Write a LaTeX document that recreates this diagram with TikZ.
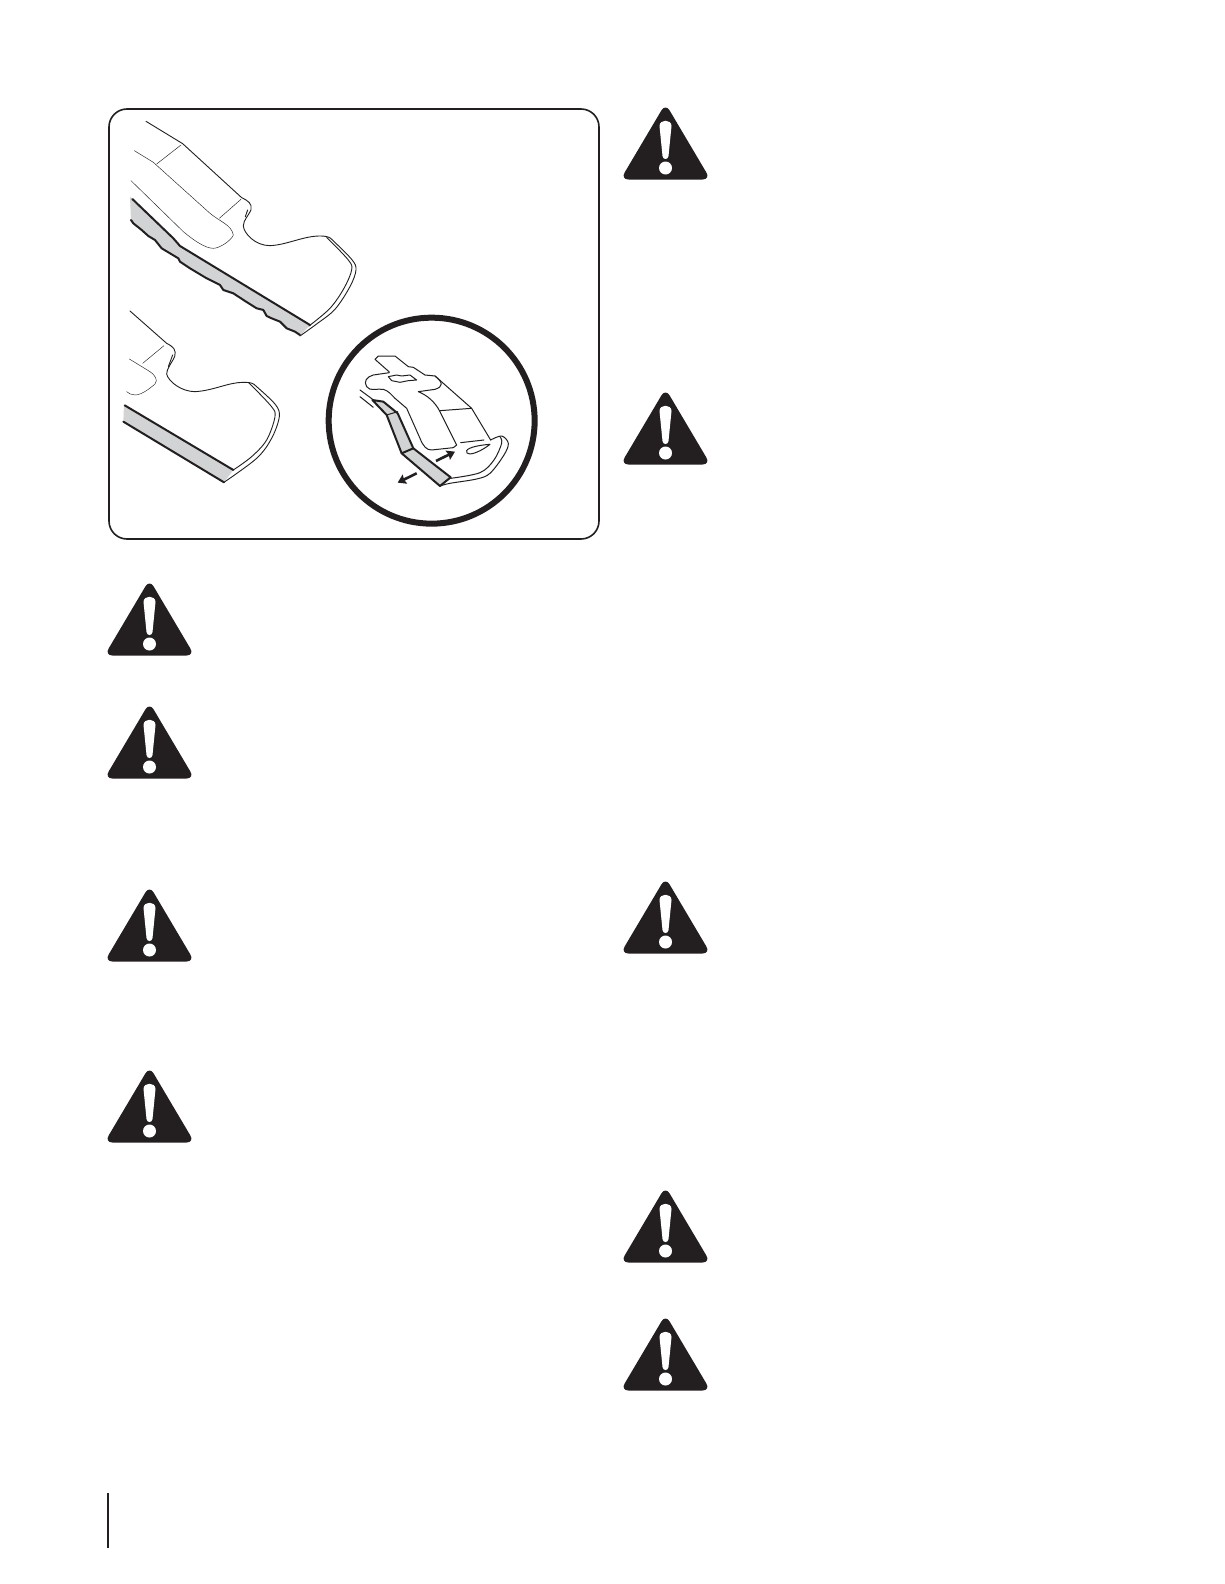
\documentclass[tikz,border=0pt]{standalone}
\usetikzlibrary{arrows.meta}
\definecolor{ink}{HTML}{231F20}
\definecolor{bladegrey}{HTML}{D1D3D4}
\tikzset{
  frameline/.style={draw=ink,line width=1.6pt},
  thinline/.style={draw=ink,line width=0.45pt,line join=round,line cap=round},
  edgeline/.style={draw=ink,line width=0.9pt,line join=round,line cap=round},
  detailline/.style={draw=ink,line width=1pt,line join=round,line cap=round},
  thickline/.style={draw=ink,line width=2pt,line join=round,line cap=round},
  greyfill/.style={fill=bladegrey,draw=none},
  warnarrow/.style={draw=ink,line width=2.6pt,-{Stealth[length=8pt,width=10pt,inset=1pt]}},
  warntri/.pic={
    \fill[ink,rounded corners=8pt] (0,-3.5) -- (45,72.5) -- (-45,72.5) -- cycle;
    \fill[white] (-6,19) .. controls (-6,12) and (6,12) .. (6,19) -- (3,49) .. controls (2.6,53) and (-2.6,53) .. (-3,49) -- cycle;
    \fill[white] (0,61) circle (6.5);
  }
}
\begin{document}
\begin{tikzpicture}[x=1pt,y=-1pt]
\useasboundingbox (0,0) rectangle (1224,1584);
\fill[white] (0,0) rectangle (1224,1584);
% frame
\draw[frameline,rounded corners=18pt] (109,109) rectangle (599,539);
% blade one
\begin{scope}[shift={(100,100)},x=0.3333pt,y=-0.3333pt]
  \fill[greyfill] (90,290) -- (97,297) -- (220,415) -- (240,438) -- (630,675) -- (600,708) -- (585,695) -- (560,685) -- (540,665) -- (515,655) -- (500,648) -- (490,630) -- (470,625) -- (435,603) -- (400,580) -- (370,570) -- (360,555) -- (320,535) -- (270,505) -- (240,485) -- (235,475) -- (185,445) -- (165,420) -- (145,408) -- (125,390) -- (100,370) -- (93,360) -- cycle;
  \draw[thickline] (97,297) -- (220,415) -- (240,438) -- (630,675);
  \draw[thickline] (93,360) -- (100,370) -- (125,390) -- (145,408) -- (165,420) -- (185,445) -- (235,475) -- (240,485) -- (270,505) -- (320,535) -- (360,555) -- (370,570) -- (400,580) -- (435,603) -- (470,625) -- (490,630) -- (500,648) -- (515,655) -- (540,665) -- (560,685) -- (585,695) -- (600,705);
  \draw[edgeline] (138,64) -- (248,131) -- (425,293) .. controls (445,303) and (457,310) .. (453,330) .. controls (447,345) and (430,360) .. (430,378) .. controls (432,400) and (465,437) .. (510,437) .. controls (560,435) and (610,408) .. (660,408) .. controls (675,408) and (685,410) .. (692,415);
  \draw[edgeline] plot[smooth,tension=0.55] coordinates {(692,415) (755,478) (768,510) (750,560) (705,628) (650,672) (600,708)};
  \draw[edgeline] plot[smooth,tension=0.55] coordinates {(680,412) (745,480) (755,510) (732,565) (690,625) (627,678)};
  \draw[edgeline] (443,330) -- (436,350);
  \draw[thinline] (103,152) -- (160,187) -- (330,340) .. controls (360,365) and (395,375) .. (400,405) .. controls (395,420) and (360,445) .. (340,445) .. controls (315,445) and (280,420) .. (250,395) -- (93,242);
  \draw[thinline] (170,192) -- (243,135);
  \draw[thinline] (358,355) -- (423,298);
\end{scope}
% blade two
\begin{scope}[shift={(100,300)},x=0.3333pt,y=-0.3333pt]
  \fill[greyfill] (72,315) -- (400,510) -- (372,547) -- (70,365) -- cycle;
  \draw[thickline] (74,316) -- (400,510);
  \draw[thickline] (70,365) -- (372,547);
  \draw[edgeline] (90,33) -- (200,130) .. controls (220,140) and (230,150) .. (224,170) .. controls (215,190) and (200,205) .. (200,222) .. controls (205,245) and (245,275) .. (285,275) .. controls (340,272) and (385,247) .. (430,247) .. controls (445,247) and (455,248) .. (462,253);
  \draw[edgeline] plot[smooth,tension=0.55] coordinates {(462,253) (525,312) (538,350) (515,415) (470,475) (372,547)};
  \draw[edgeline] plot[smooth,tension=0.55] coordinates {(445,247) (513,318) (525,350) (500,420) (455,470) (400,510)};
  \draw[edgeline] (218,165) -- (205,200);
  \draw[thinline] (88,177) -- (150,215) .. controls (165,225) and (175,240) .. (165,252) .. controls (150,265) and (125,285) .. (105,285) .. controls (95,285) and (85,280) .. (80,275);
  \draw[thinline] (128,190) -- (192,137);
\end{scope}
% detail circle
\begin{scope}[shift={(320,310)},x=0.3333pt,y=-0.3333pt]
  \draw[draw=ink,line width=6pt] (335,332) circle (309);
\end{scope}
\begin{scope}[shift={(360,350)},x=0.3333pt,y=-0.3333pt]
  \fill[greyfill] (37,150) -- (70,155) -- (113,190) -- (160,295) -- (272,382) -- (240,408) -- (125,310) -- (80,195) -- cycle;
  \draw[thickline] (37,150) -- (70,155) -- (113,190) -- (160,295) -- (272,382) -- (240,408) -- (125,310) -- (80,195) -- cycle;
  \draw[detailline] (80,195) -- (113,185);
  \draw[thickline] (125,310) -- (160,295);
  \draw[detailline] (0,120) -- (38,148);
  \draw[detailline] (0,140) -- (40,172);
  \draw[detailline] (88,66) -- (45,28) -- (55,18) -- (105,18) -- (145,50) -- (160,52) -- (195,75) -- (225,78) -- (335,175) -- (392,270);
  \draw[detailline] (88,68) -- (40,75) .. controls (20,80) and (10,95) .. (20,110) .. controls (30,125) and (50,115) .. (70,118) .. controls (85,122) and (95,135) .. (105,145) -- (140,175) -- (180,265) .. controls (190,290) and (200,300) .. (215,300) -- (280,293) -- (290,285) -- (240,185) .. controls (225,155) and (200,135) .. (175,125) -- (225,118) .. controls (250,110) and (250,98) .. (225,78);
  \draw[detailline] (85,80) -- (110,75) -- (125,78) -- (150,75) -- (170,90) -- (145,92) -- (120,97) -- (95,92) -- cycle;
  \draw[detailline] (240,182) -- (335,175);
  \draw[detailline] (302,278) -- (372,270);
  \draw[detailline] plot[smooth,tension=0.55] coordinates {(392,270) (425,258) (445,280) (432,315) (390,370) (350,387) (270,400) (240,408)};
  \draw[detailline] plot[smooth,tension=0.55] coordinates {(420,260) (425,280) (402,330) (360,368) (272,385)};
  \draw[detailline] (320,302) .. controls (325,292) and (360,285) .. (390,283) .. controls (375,295) and (350,310) .. (330,312) .. controls (322,312) and (318,308) .. (320,302) -- cycle;
  \draw[warnarrow] (228,333) -- (285,305);
  \draw[warnarrow] (170,370) -- (113,398);
\end{scope}
% warning triangles
\pic at (149.5,583) {warntri};
\pic at (149.5,706) {warntri};
\pic at (149.5,889) {warntri};
\pic at (149.5,1070) {warntri};
\pic at (665.5,107) {warntri};
\pic at (665.5,392) {warntri};
\pic at (665.5,881) {warntri};
\pic at (665.5,1190) {warntri};
\pic at (665.5,1318) {warntri};
% page rule
\draw[draw=ink,line width=2pt] (108,1493) -- (108,1548);
\end{tikzpicture}
\end{document}
